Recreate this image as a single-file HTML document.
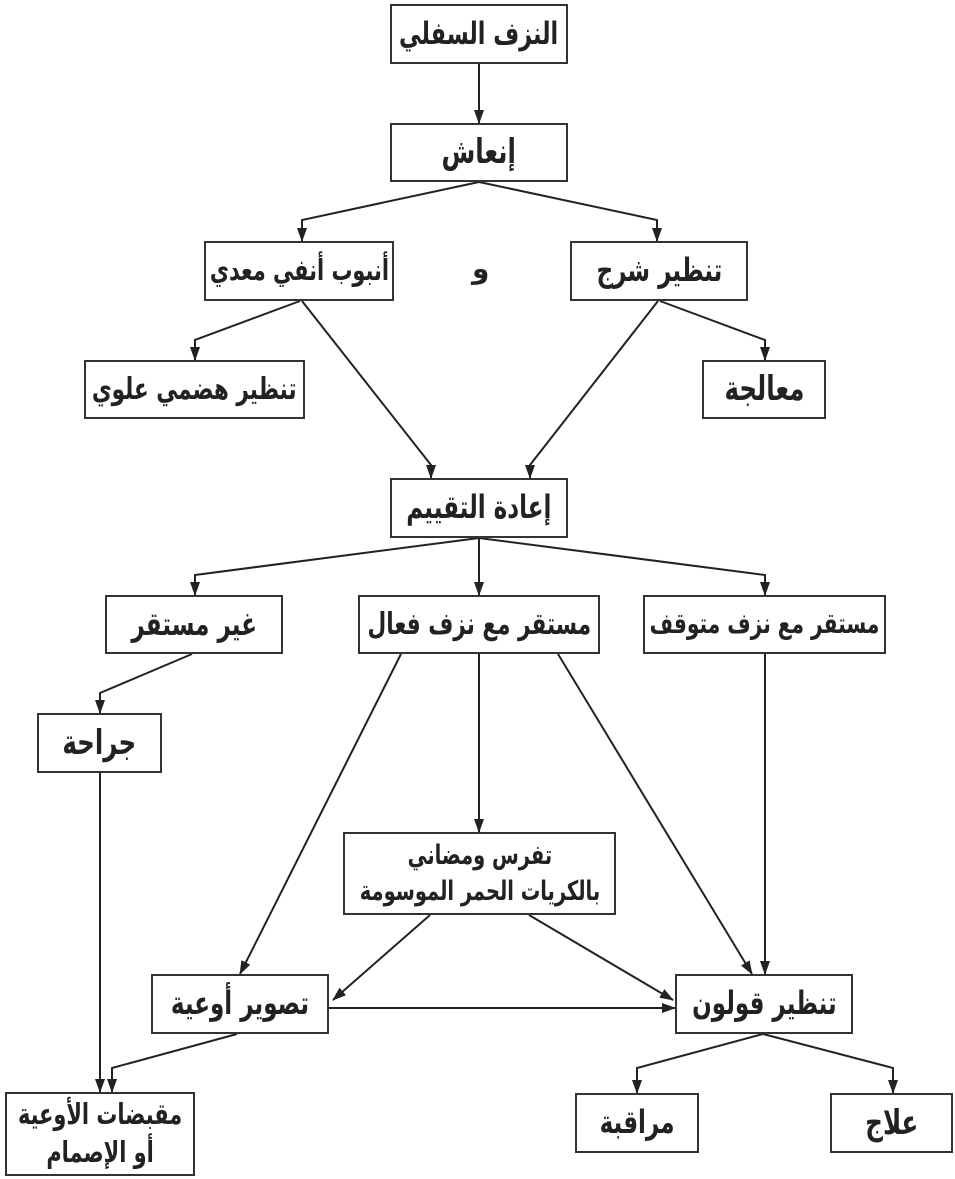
<!DOCTYPE html>
<html><head><meta charset="utf-8"><style>
body{margin:0;background:#fff;width:955px;height:1179px;overflow:hidden}
svg{position:absolute;left:0;top:0}
.b{position:absolute;border:2px solid #333;box-sizing:border-box;background:#fff;display:flex;align-items:center;justify-content:center;text-align:center;font-family:"DejaVu Sans","Liberation Sans",sans-serif;font-weight:bold;color:#222;direction:rtl;line-height:1.3;white-space:nowrap}
.b span{display:inline-block;transform:scaleX(0.72)}
</style></head><body>
<svg width="955" height="1179">
<defs><marker id="m" markerWidth="14" markerHeight="10" refX="13" refY="5" orient="auto" markerUnits="userSpaceOnUse"><path d="M0,0 L14,5 L0,10 z" fill="#222"/></marker></defs>
<g stroke="#222" stroke-width="2" fill="none" marker-end="url(#m)">
<path d="M479 64 V123"/>
<path d="M479 182 L302 220 V241"/>
<path d="M479 182 L657 220 V241"/>
<path d="M300 301 L195 340 V360"/>
<path d="M302 301 L431 465 V478"/>
<path d="M658 301 L530 465 V478"/>
<path d="M660 301 L765 340 V360"/>
<path d="M479 538 L195 575 V595"/>
<path d="M479 538 V595"/>
<path d="M479 538 L765 575 V595"/>
<path d="M192 654 L100 693 V713"/>
<path d="M401 654 L240 974"/>
<path d="M479 654 V832"/>
<path d="M558 654 L752 974"/>
<path d="M765 654 V974"/>
<path d="M430 915 L333 1000"/>
<path d="M529 915 L673 1000"/>
<path d="M329 1008 L675 1008"/>
<path d="M100 773 V1092"/>
<path d="M237 1034 L112 1068 V1092"/>
<path d="M763 1034 L637 1068 V1093"/>
<path d="M763 1034 L893 1068 V1093"/>
</g></svg>
<div class="b" style="left:390px;top:4px;width:178px;height:60px;font-size:31px"><span>النزف السفلي</span></div>
<div class="b" style="left:390px;top:123px;width:178px;height:59px;font-size:34px"><span>إنعاش</span></div>
<div class="b" style="left:204px;top:241px;width:190px;height:60px;font-size:29px"><span>أنبوب أنفي معدي</span></div>
<div style="position:absolute;left:472px;top:252px;font:bold 28px 'DejaVu Sans',sans-serif;color:#222">و</div>
<div class="b" style="left:570px;top:241px;width:178px;height:60px;font-size:32px"><span>تنظير شرج</span></div>
<div class="b" style="left:84px;top:360px;width:221px;height:59px;font-size:30px"><span>تنظير هضمي علوي</span></div>
<div class="b" style="left:702px;top:360px;width:124px;height:59px;font-size:34px"><span>معالجة</span></div>
<div class="b" style="left:390px;top:478px;width:178px;height:60px;font-size:32px"><span>إعادة التقييم</span></div>
<div class="b" style="left:105px;top:595px;width:178px;height:59px;font-size:32px"><span>غير مستقر</span></div>
<div class="b" style="left:358px;top:595px;width:242px;height:59px;font-size:30px"><span>مستقر مع نزف فعال</span></div>
<div class="b" style="left:643px;top:595px;width:243px;height:59px;font-size:28px"><span>مستقر مع نزف متوقف</span></div>
<div class="b" style="left:37px;top:713px;width:125px;height:60px;font-size:34px"><span>جراحة</span></div>
<div class="b" style="left:343px;top:832px;width:273px;height:83px;font-size:27px"><span>تفرس ومضاني<br>بالكريات الحمر الموسومة</span></div>
<div class="b" style="left:151px;top:974px;width:178px;height:60px;font-size:32px"><span>تصوير أوعية</span></div>
<div class="b" style="left:675px;top:974px;width:178px;height:60px;font-size:32px"><span>تنظير قولون</span></div>
<div class="b" style="left:5px;top:1092px;width:190px;height:84px;font-size:29px"><span>مقبضات الأوعية<br>أو الإصمام</span></div>
<div class="b" style="left:575px;top:1093px;width:124px;height:60px;font-size:32px"><span>مراقبة</span></div>
<div class="b" style="left:830px;top:1093px;width:123px;height:60px;font-size:34px"><span>علاج</span></div>
</body></html>
